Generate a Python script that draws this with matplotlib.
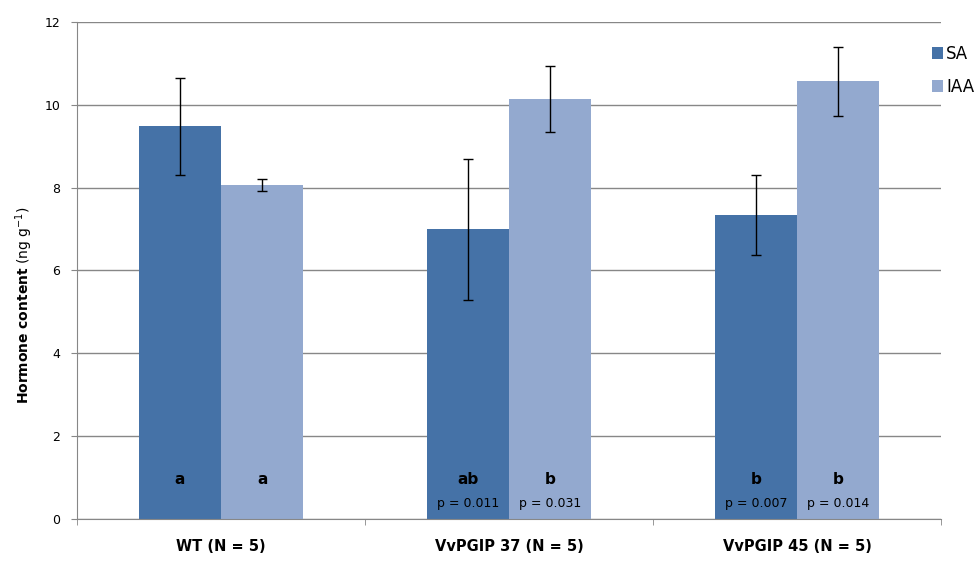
import matplotlib.pyplot as plt
import numpy as np


GROUPS = ['WT (N = 5)', 'VvPGIP 37 (N = 5)', 'VvPGIP 45 (N = 5)']
SA = [9.48, 6.99, 7.34]
SA_ERR = [1.17, 1.71, 0.96]
IAA = [8.06, 10.15, 10.57]
IAA_ERR = [0.15, 0.80, 0.83]
SA_LETTERS = ['a', 'ab', 'b']
IAA_LETTERS = ['a', 'b', 'b']
SA_P = ['', 'p = 0.011', 'p = 0.007']
IAA_P = ['', 'p = 0.031', 'p = 0.014']

SA_COLOR = '#4572a7'
IAA_COLOR = '#93a9cf'
GRID_COLOR = '#878787'


if __name__ == '__main__':
    fig = plt.figure(figsize=(9.8, 5.75), dpi=100)
    ax = fig.add_axes([0.0786, 0.098, 0.8816, 0.8636])

    x = np.arange(len(GROUPS))
    width = 0.286
    err_kw = dict(ecolor='black', elinewidth=1, capsize=3.5, capthick=1)
    ax.bar(x - width / 2, SA, width, yerr=SA_ERR, color=SA_COLOR, label='SA',
           error_kw=err_kw, zorder=2)
    ax.bar(x + width / 2, IAA, width, yerr=IAA_ERR, color=IAA_COLOR, label='IAA',
           error_kw=err_kw, zorder=2)

    for i in range(len(GROUPS)):
        for off, letter, p in ((-width / 2, SA_LETTERS[i], SA_P[i]),
                               (width / 2, IAA_LETTERS[i], IAA_P[i])):
            ax.text(x[i] + off, 0.94, letter, ha='center', va='center',
                    fontsize=11, fontweight='bold', zorder=3)
            if p:
                ax.text(x[i] + off, 0.36, p, ha='center', va='center',
                        fontsize=9, zorder=3)

    ax.set_xlim(-0.5, len(GROUPS) - 0.5)
    ax.set_ylim(0, 12)
    ax.set_yticks(np.arange(0, 13, 2))
    ax.set_xticks(x)
    ax.set_xticklabels(GROUPS, fontweight='bold', fontsize=10.5)
    ax.set_xticks(np.arange(-0.5, len(GROUPS), 1), minor=True)
    ax.tick_params(axis='x', which='major', length=0, pad=15)
    ax.tick_params(axis='x', which='minor', length=4, color=GRID_COLOR)
    ax.tick_params(axis='y', length=4, color=GRID_COLOR, labelsize=9, pad=8)
    ax.yaxis.grid(True, color=GRID_COLOR, linewidth=1, zorder=0)
    ax.set_axisbelow(True)

    for side in ('top', 'right'):
        ax.spines[side].set_visible(False)
    for side in ('left', 'bottom'):
        ax.spines[side].set_color(GRID_COLOR)

    ax.set_ylabel(r'$\mathbf{Hormone\ content}$ (ng g$^{-1}$)', fontsize=10)
    ax.yaxis.set_label_coords(-0.049, 0.43)

    fig.legend(loc='upper left', bbox_to_anchor=(0.951, 0.922), frameon=False,
               fontsize=12, handlelength=0.65, handleheight=0.65, handletextpad=0.2,
               labelspacing=0.9, borderaxespad=0, borderpad=0)

    plt.savefig('out.png', dpi=100)
